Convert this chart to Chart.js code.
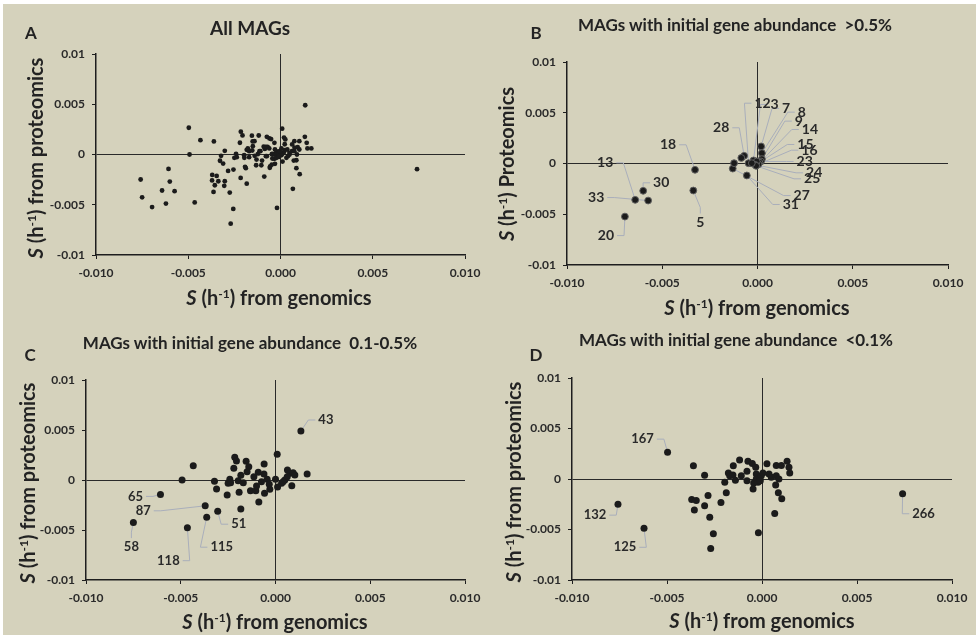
<!DOCTYPE html>
<html>
<head>
<meta charset="utf-8">
<script src="https://cdn.jsdelivr.net/npm/chart.js@4.4.1/dist/chart.umd.min.js"></script>
<style>
  body { margin: 0; width: 976px; height: 635px; background: #fff; overflow: hidden; font-family: Lato, "Open Sans", sans-serif; }
  #sheet { position: absolute; left: 3px; top: 4px; width: 973px; height: 631px; background: #d5d2bc; }
  canvas { position: absolute; }
  .txt { position: absolute; font-weight: bold; color: #232323; white-space: nowrap; transform: translate(-50%, -50%); }
  .ytitle { transform: translate(-50%, -50%) rotate(-90deg); }
  .txt sup { font-size: 0.6em; vertical-align: 0.6em; line-height: 0; }
</style>
</head>
<body>
<div id="sheet"></div>
<canvas id="chartA"></canvas>
<canvas id="chartB"></canvas>
<canvas id="chartC"></canvas>
<canvas id="chartD"></canvas>

<div class="txt" style="left:31px;top:32px;font-size:17px">A</div>
<div class="txt" style="left:250px;top:27px;font-size:19px">All MAGs</div>
<div class="txt" style="left:279px;top:297px;font-size:20px"><i>S</i> (h<sup>-1</sup>) from genomics</div>
<div class="txt ytitle" style="left:35px;top:158px;font-size:20px"><i>S</i> (h<sup>-1</sup>) from proteomics</div>

<div class="txt" style="left:536px;top:32px;font-size:17px">B</div>
<div class="txt" style="left:735px;top:24px;font-size:17px">MAGs with initial gene abundance&nbsp; &gt;0.5%</div>
<div class="txt" style="left:757px;top:307px;font-size:20px"><i>S</i> (h<sup>-1</sup>) from genomics</div>
<div class="txt ytitle" style="left:506px;top:164px;font-size:20px"><i>S</i> (h<sup>-1</sup>) Proteomics</div>

<div class="txt" style="left:30px;top:354px;font-size:17px">C</div>
<div class="txt" style="left:250px;top:342px;font-size:17px">MAGs with initial gene abundance&nbsp; 0.1-0.5%</div>
<div class="txt" style="left:275px;top:621px;font-size:20px"><i>S</i> (h<sup>-1</sup>) from genomics</div>
<div class="txt ytitle" style="left:27px;top:483px;font-size:20px"><i>S</i> (h<sup>-1</sup>) from proteomics</div>

<div class="txt" style="left:536px;top:354px;font-size:17px">D</div>
<div class="txt" style="left:736px;top:339px;font-size:17px">MAGs with initial gene abundance&nbsp; &lt;0.1%</div>
<div class="txt" style="left:762px;top:620px;font-size:20px"><i>S</i> (h<sup>-1</sup>) from genomics</div>
<div class="txt ytitle" style="left:513px;top:482px;font-size:20px"><i>S</i> (h<sup>-1</sup>) from proteomics</div>

<script>
// tick values and their printed labels
const xTickValues = [-0.01, -0.005, 0, 0.005, 0.01];
const xTickLabels = ['-0.010', '-0.005', '0.000', '0.005', '0.010'];
const yTickValues = [-0.01, -0.005, 0, 0.005, 0.01];
const yTickLabels = ['-0.01', '-0.005', '0', '0.005', '0.01'];

// MAGs with initial gene abundance >0.5%
const bIds = ['20', '13', '33', '30', '18', '5', '28', '12', '3', '7', '8', '9', '14', '15', '16', '23', '24', '25', '27', '31', '', '', ''];
const bGenomics = [-0.00696, -0.00642, -0.00574, -0.00600, -0.00328, -0.00337, -0.00070, -0.00047, -0.00021, 0.00019, 0.00023, 0.00023,
  0.00018, 0.00010, 0.00005, -0.00004, -0.00012, -0.00007, -0.00130, -0.00056, -0.00085, -0.00123, -0.00030];
const bProteomics = [-0.00523, -0.00358, -0.00365, -0.00269, -0.00062, -0.00266, 0.00076, 0.00003, 0.00030, 0.00168, 0.00102, 0.00043,
  0.00020, 0.00010, -0.00007, 0.00020, -0.00013, -0.00023, -0.00050, -0.00118, 0.00055, 0.00003, 0.00003];

// MAGs with initial gene abundance 0.1-0.5%
const cIds = ['43', '65', '87', '51', '115', '118', '58'];
const cGenomics = [0.00134, -0.00607, -0.00371, -0.00305, -0.00363, -0.00465, -0.00750,
  0.00167, -0.00434, -0.00493, -0.00322, -0.00311, -0.00255, -0.00215, -0.00206, -0.00220, -0.00155, -0.00141, -0.00150,
  -0.00183, -0.00241, -0.00250, -0.00237, -0.00197, -0.00170, -0.00192, -0.00183, -0.00088, -0.00132, -0.00104, -0.00100,
  -0.00114, -0.00091, -0.00060, -0.00061, -0.00074, -0.00044, -0.00033, -0.00030, -0.00058, 0.00009, 0.00000, 0.00011,
  0.00032, 0.00049, 0.00063, 0.00076, 0.00093, 0.00102, 0.00086, 0.00062, 0.00040];
const cProteomics = [0.00490, -0.00144, -0.00258, -0.00312, -0.00372, -0.00477, -0.00426,
  0.00060, 0.00143, 0.00000, -0.00013, -0.00090, -0.00150, 0.00227, 0.00190, 0.00117, 0.00187, 0.00133, 0.00083,
  0.00047, 0.00007, -0.00033, -0.00027, -0.00007, -0.00027, -0.00123, -0.00290, -0.00220, -0.00107, -0.00107, -0.00060,
  0.00033, 0.00077, 0.00160, 0.00060, -0.00017, 0.00007, -0.00043, -0.00093, -0.00133, 0.00257, 0.00007, -0.00070,
  -0.00033, 0.00000, 0.00100, 0.00067, 0.00073, 0.00050, -0.00057, 0.00033, -0.00017];

// MAGs with initial gene abundance <0.1%
const dIds = ['167', '132', '125', '266'];
const dGenomics = [-0.00497, -0.00758, -0.00621, 0.00740,
  -0.00361, -0.00302, -0.00370, -0.00346, -0.00356, -0.00302, -0.00284, -0.00275, -0.00256, -0.00270, -0.00216, -0.00188,
  -0.00196, -0.00177, -0.00170, -0.00153, -0.00151, -0.00140, -0.00118, -0.00109, -0.00079, -0.00074, -0.00079, -0.00051,
  -0.00033, -0.00030, -0.00044, -0.00047, -0.00030, -0.00012, -0.00004, 0.00005, 0.00026, 0.00037, 0.00049, 0.00075,
  0.00102, 0.00132, 0.00142, 0.00146, 0.00075, 0.00089, 0.00072, 0.00086, 0.00104, 0.00067, -0.00019, -0.00021, -0.00009];
const dProteomics = [0.00266, -0.00249, -0.00488, -0.00146,
  0.00130, 0.00037, -0.00203, -0.00213, -0.00306, -0.00266, -0.00163, -0.00379, -0.00542, -0.00688, -0.00233, -0.00136,
  -0.00033, 0.00060, 0.00033, 0.00040, 0.00130, -0.00013, 0.00189, 0.00033, 0.00076, 0.00176, -0.00017, 0.00153,
  0.00116, 0.00050, -0.00040, -0.00100, 0.00000, 0.00000, 0.00033, 0.00060, 0.00150, 0.00050, 0.00017, 0.00133,
  0.00133, 0.00176, 0.00116, 0.00060, 0.00033, 0.00000, -0.00060, -0.00136, -0.00196, -0.00342, -0.00532, -0.00033, -0.00017];

// where each point label sits relative to its point, in px
const bLabelOffsets = {
  '20': [-19, 19], '13': [-30, -37], '33': [-52, -3], '30': [18, -8], '18': [-27, -25], '5': [7, 32],
  '28': [-23, -28], '12': [14, -60], '3': [21, -56], '7': [25, -38], '8': [40, -41], '9': [37, -38],
  '14': [49, -32], '15': [46, -18], '16': [51, -14], '23': [48, 0], '24': [59, 8], '25': [56, 13],
  '27': [69, 27], '31': [44, 29]
};
const cLabelOffsets = {
  '43': [25, -11], '65': [-25, 2], '87': [-62, 5], '51': [21, 13], '115': [15, 30], '118': [-19, 33], '58': [-2, 24]
};
const dLabelOffsets = { '167': [-25, -13], '132': [-23, 11], '125': [-19, 19], '266': [21, 20] };

const FONT = 'Lato, "Open Sans", sans-serif';

function toPoints(gen, prot, ids) {
  return gen.map((g, i) => ({ x: g, y: prot[i], id: ids[i] || '' }));
}

const bPoints = toPoints(bGenomics, bProteomics, bIds);
const cPoints = toPoints(cGenomics, cProteomics, cIds);
const dPoints = toPoints(dGenomics, dProteomics, dIds);
const allPoints = bPoints.concat(cPoints, dPoints).map(p => ({ x: p.x, y: p.y, id: '' }));

// grey leader lines and MAG numbers next to labelled points
function labelGeometry(ctx, pt, id, off, size) {
  const lx = pt.x + off[0], ly = pt.y + off[1];
  const w = ctx.measureText(id).width;
  let ax, ay, kx, ky;
  if (Math.abs(off[0]) > w / 2 + 3) {
    const s = off[0] > 0 ? -1 : 1;
    ax = lx + s * (w / 2 + 3); ay = ly;
    kx = ax + s * 7; ky = ay;
  } else {
    const s = off[1] > 0 ? -1 : 1;
    ax = lx; ay = ly + s * (size / 2 + 2);
    kx = ax; ky = ay + s * 6;
  }
  return { lx, ly, ax, ay, kx, ky };
}

const leaderPlugin = {
  id: 'leaders',
  beforeDatasetsDraw(chart, args, opts) {
    if (!opts.offsets) return;
    const ctx = chart.ctx;
    const meta = chart.getDatasetMeta(0);
    ctx.save();
    ctx.font = 'bold ' + opts.size + 'px ' + FONT;
    ctx.strokeStyle = '#a9aebb';
    ctx.lineWidth = 1;
    meta.data.forEach((pt, i) => {
      const id = chart.data.datasets[0].data[i].id;
      const off = opts.offsets[id];
      if (!id || !off) return;
      const g = labelGeometry(ctx, pt, id, off, opts.size);
      ctx.beginPath();
      ctx.moveTo(g.ax, g.ay);
      ctx.lineTo(g.kx, g.ky);
      ctx.lineTo(pt.x, pt.y);
      ctx.stroke();
    });
    ctx.restore();
  },
  afterDatasetsDraw(chart, args, opts) {
    if (!opts.offsets) return;
    const ctx = chart.ctx;
    const meta = chart.getDatasetMeta(0);
    ctx.save();
    ctx.font = 'bold ' + opts.size + 'px ' + FONT;
    ctx.fillStyle = '#2a2a2a';
    ctx.textAlign = 'center';
    ctx.textBaseline = 'middle';
    meta.data.forEach((pt, i) => {
      const id = chart.data.datasets[0].data[i].id;
      const off = opts.offsets[id];
      if (!id || !off) return;
      const g = labelGeometry(ctx, pt, id, off, opts.size);
      ctx.fillText(id, g.lx, g.ly);
    });
    ctx.restore();
  }
};

function axis(kind, values, labels, size) {
  return {
    type: 'linear',
    position: kind === 'x' ? 'bottom' : 'left',
    min: -0.01,
    max: 0.01,
    afterBuildTicks: s => { s.ticks = values.map(v => ({ value: v })); },
    afterFit: s => { if (kind === 'x') s.height = size; else s.width = size; },
    ticks: {
      callback: (v, i) => labels[i],
      font: { family: FONT, size: 12, weight: 'bold' },
      color: '#2a2a2a',
      padding: kind === 'x' ? 7 : 7,
      maxRotation: 0,
      autoSkip: false
    },
    grid: {
      color: c => (c.tick && c.tick.value === 0 ? '#2a2a2a' : 'rgba(0,0,0,0)'),
      lineWidth: 1,
      tickColor: '#1e1e1e',
      tickLength: 4
    },
    border: { color: '#1e1e1e', width: 1.5 }
  };
}

function makePanel(canvasId, box, area, points, dot, leaders) {
  const canvas = document.getElementById(canvasId);
  canvas.width = box.w;
  canvas.height = box.h;
  canvas.style.left = box.x + 'px';
  canvas.style.top = box.y + 'px';
  return new Chart(canvas, {
    type: 'scatter',
    data: {
      datasets: [{
        data: points,
        pointRadius: dot.r,
        pointBackgroundColor: '#1b1b1b',
        pointBorderColor: dot.border,
        pointBorderWidth: dot.borderWidth
      }]
    },
    options: {
      responsive: false,
      maintainAspectRatio: false,
      animation: false,
      events: [],
      layout: {
        autoPadding: false,
        padding: { top: area.top - box.y, right: box.x + box.w - area.right, left: 0, bottom: 0 }
      },
      plugins: {
        legend: { display: false },
        tooltip: { enabled: false },
        leaders: leaders
      },
      scales: {
        x: axis('x', xTickValues, xTickLabels, box.y + box.h - area.bottom),
        y: axis('y', yTickValues, yTickLabels, area.left - box.x)
      }
    },
    plugins: [leaderPlugin]
  });
}

makePanel('chartA', { x: 0, y: 0, w: 488, h: 315 }, { left: 96, right: 465, top: 54, bottom: 255 },
  allPoints, { r: 2.4, border: '#1b1b1b', borderWidth: 0 }, {});
makePanel('chartB', { x: 488, y: 0, w: 488, h: 315 }, { left: 567, right: 948, top: 62, bottom: 265 },
  bPoints, { r: 3.4, border: '#5e5e5e', borderWidth: 1 }, { offsets: bLabelOffsets, size: 14 });
makePanel('chartC', { x: 0, y: 315, w: 488, h: 320 }, { left: 86, right: 465, top: 380, bottom: 580 },
  cPoints, { r: 3.5, border: '#1b1b1b', borderWidth: 0 }, { offsets: cLabelOffsets, size: 13 });
makePanel('chartD', { x: 488, y: 315, w: 488, h: 320 }, { left: 572, right: 952, top: 378, bottom: 580 },
  dPoints, { r: 3.5, border: '#1b1b1b', borderWidth: 0 }, { offsets: dLabelOffsets, size: 13 });
</script>
</body>
</html>
